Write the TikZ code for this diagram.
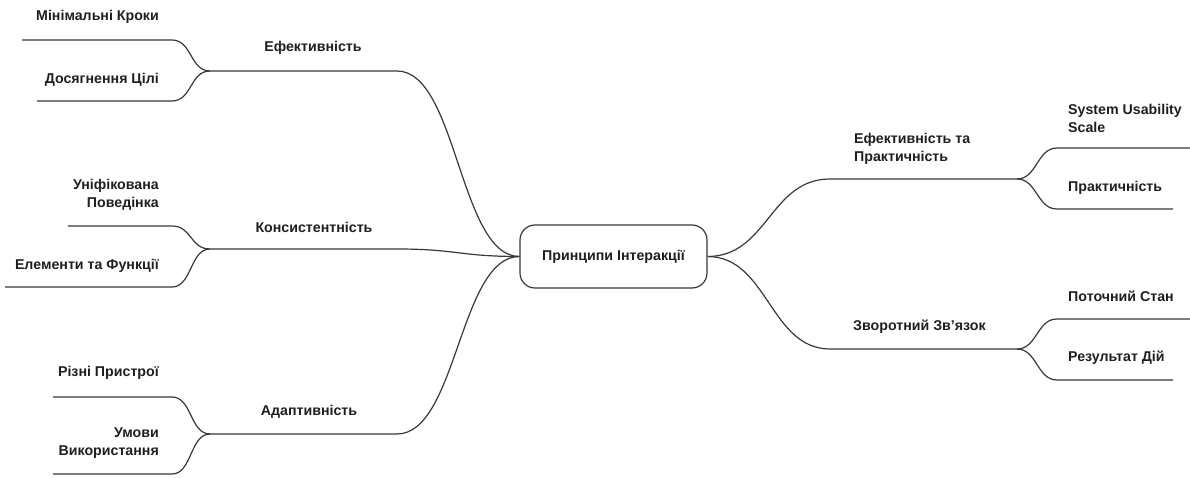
\documentclass[tikz,border=0pt]{standalone}
\usepackage{fontspec}
\setmainfont{Liberation Sans}
\begin{document}
\begin{tikzpicture}[x=1pt,y=-1pt,
  link/.style={draw=black!78, line width=1.2pt},
  txt/.style={font=\bfseries\fontsize{14.2}{18}\selectfont, text=black!88},
  lbl/.style={txt, inner sep=0pt},
  root/.style={txt, draw=black!78, line width=1.2pt, rounded corners=15pt,
    minimum width=187pt, minimum height=63pt, fill=white}]
\useasboundingbox (0,0) rectangle (1190,478);

% central topic
\node[root] (root) at (613.5,256.5) {Принципи Інтеракції};

% ---- left side: primary branches ----
\coordinate (aFork) at (210,71);  \coordinate (aBend) at (397,71);
\coordinate (bFork) at (210,249); \coordinate (bBend) at (397,249);
\coordinate (cFork) at (210,434); \coordinate (cBend) at (397,434);

\draw[link] (root.west) .. controls +(-60,0) and +(60,0) .. (aBend) -- (aFork);
\draw[link] (root.west) .. controls +(-60,0) and +(60,0) .. (bBend) -- (bFork);
\draw[link] (root.west) .. controls +(-60,0) and +(60,0) .. (cBend) -- (cFork);

\node[lbl] (a) at (313,48)  {Ефективність};
\node[lbl] (b) at (314,227) {Консистентність};
\node[lbl] (c) at (309,412) {Адаптивність};

% ---- left side: leaves ----
\coordinate (a1b) at (172,40);  \coordinate (a1) at (22,40);
\coordinate (a2b) at (172,101); \coordinate (a2) at (37,101);
\coordinate (b1b) at (172,226); \coordinate (b1) at (68,226);
\coordinate (b2b) at (172,287); \coordinate (b2) at (5,287);
\coordinate (c1b) at (172,397); \coordinate (c1) at (53,397);
\coordinate (c2b) at (172,474); \coordinate (c2) at (53,474);

\foreach \f/\l in {a/1,a/2,b/1,b/2,c/1,c/2}
  \draw[link] (\f Fork) .. controls +(-20,0) and +(20,0) .. (\f\l b) -- (\f\l);

\node[lbl, anchor=east] (a1t) at (159,17)  {Мінімальні Кроки};
\node[lbl, anchor=east] (a2t) at (159,80)  {Досягнення Цілі};
\node[lbl, anchor=east, align=right] (b1t) at (159,195) {Уніфікована\\Поведінка};
\node[lbl, anchor=east] (b2t) at (159,266) {Елементи та Функції};
\node[lbl, anchor=east] (c1t) at (159,373) {Різні Пристрої};
\node[lbl, anchor=east, align=right] (c2t) at (159,443.5) {Умови\\Використання};

% ---- right side: primary branches ----
\coordinate (dBend) at (830,179); \coordinate (dFork) at (1017,179);
\coordinate (eBend) at (830,349); \coordinate (eFork) at (1017,349);

\draw[link] (root.east) .. controls +(60,0) and +(-60,0) .. (dBend) -- (dFork);
\draw[link] (root.east) .. controls +(60,0) and +(-60,0) .. (eBend) -- (eFork);

\node[lbl, anchor=west, align=left] (d) at (854,149) {Ефективність та\\Практичність};
\node[lbl, anchor=west] (e) at (853,327) {Зворотний Зв’язок};

% ---- right side: leaves ----
\coordinate (d1b) at (1057,148); \coordinate (d1) at (1190,148);
\coordinate (d2b) at (1057,209); \coordinate (d2) at (1173,209);
\coordinate (e1b) at (1057,319); \coordinate (e1) at (1190,319);
\coordinate (e2b) at (1057,380); \coordinate (e2) at (1173,380);

\foreach \f/\l in {d/1,d/2,e/1,e/2}
  \draw[link] (\f Fork) .. controls +(20,0) and +(-20,0) .. (\f\l b) -- (\f\l);

\node[lbl, anchor=west, align=left] (d1t) at (1068,118) {System Usability\\Scale};
\node[lbl, anchor=west] (d2t) at (1068,188) {Практичність};
\node[lbl, anchor=west] (e1t) at (1068,296) {Поточний Стан};
\node[lbl, anchor=west] (e2t) at (1068,358) {Результат Дій};
\end{tikzpicture}
\end{document}
